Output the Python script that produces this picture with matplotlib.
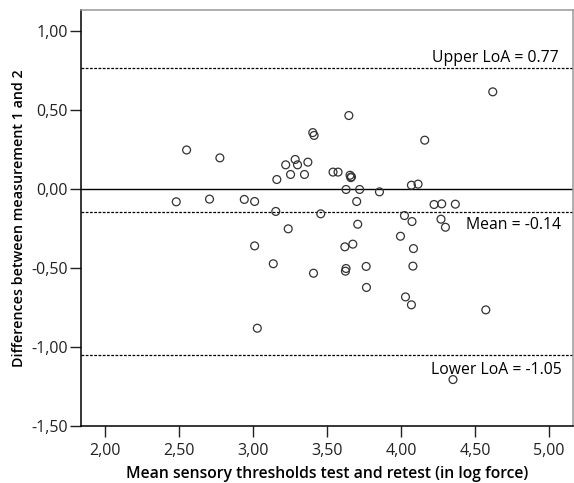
import matplotlib
matplotlib.use('Agg')
import matplotlib.pyplot as plt

# mean of test and retest (log force) vs difference between measurements
mean_vals = [2.48, 2.55, 2.705, 2.775, 2.94, 3.01, 3.01, 3.028, 3.136, 3.153,
             3.16, 3.22, 3.237, 3.253, 3.284, 3.30, 3.347, 3.37, 3.403, 3.412,
             3.408, 3.457, 3.54, 3.574, 3.628, 3.62, 3.628, 3.624, 3.647, 3.655,
             3.665, 3.66, 3.674, 3.70, 3.707, 3.72, 3.764, 3.766, 3.854, 3.996,
             4.023, 4.03, 4.07, 4.074, 4.084, 4.08, 4.07, 4.115, 4.16, 4.223,
             4.275, 4.27, 4.30, 4.351, 4.367, 4.573, 4.62]
diff_vals = [-0.078, 0.25, -0.061, 0.20, -0.063, -0.076, -0.357, -0.878, -0.47, -0.139,
             0.063, 0.156, -0.249, 0.095, 0.19, 0.156, 0.095, 0.173, 0.36, 0.342,
             -0.53, -0.154, 0.11, 0.11, 0.0, -0.363, -0.50, -0.517, 0.468, 0.09,
             0.08, 0.075, -0.346, -0.076, -0.22, 0.0, -0.487, -0.62, -0.015, -0.296,
             -0.165, -0.68, 0.027, -0.203, -0.374, -0.485, -0.73, 0.034, 0.312, -0.095,
             -0.091, -0.188, -0.239, -1.203, -0.093, -0.762, 0.618]

upper_loa = 0.77
mean_diff = -0.14
lower_loa = -1.05

xticks = [2.0, 2.5, 3.0, 3.5, 4.0, 4.5, 5.0]
yticks = [-1.5, -1.0, -0.5, 0.0, 0.5, 1.0]

plt.rcParams['font.family'] = ['Open Sans', 'DejaVu Sans']

fig = plt.figure(figsize=(5.74, 4.83), dpi=100)
ax = fig.add_axes([0.1406, 0.117, 0.857, 0.862])

ax.axhline(0, color='black', lw=1.0, zorder=1)
for v in (upper_loa, mean_diff, lower_loa):
    ax.axhline(v, color='black', lw=0.9, ls=(0, (2.2, 1.2)), zorder=1)

ax.scatter(mean_vals, diff_vals, s=32, facecolors='none', edgecolors='#333333',
           linewidths=0.9, zorder=3)

ax.text(5.066, 0.808, 'Upper LoA = 0.77', ha='right', va='baseline', fontsize=11.3)
ax.text(5.08, -0.251, 'Mean = -0.14', ha='right', va='baseline', fontsize=11.3)
ax.text(5.086, -1.169, 'Lower LoA = -1.05', ha='right', va='baseline', fontsize=11.3)

ax.set_xlim(1.834, 5.16)
ax.set_ylim(-1.5, 1.135)
ax.set_xticks(xticks)
ax.set_yticks(yticks)
ax.set_xticklabels([f'{t:.2f}'.replace('.', ',') for t in xticks])
ax.set_yticklabels([f'{t:.2f}'.replace('.', ',') for t in yticks])
ax.tick_params(axis='both', direction='out', length=8, width=1, labelsize=11.5,
               colors='#222222')
ax.tick_params(axis='y', pad=1)
ax.tick_params(axis='x', pad=4)

for side in ('left', 'bottom'):
    ax.spines[side].set_color('black')
    ax.spines[side].set_linewidth(1.1)
for side in ('top', 'right'):
    ax.spines[side].set_color('#999999')
    ax.spines[side].set_linewidth(1.1)

ax.set_xlabel('Mean sensory thresholds test and retest (in log force)',
              fontsize=11.3, fontweight='semibold', labelpad=5)
ax.set_ylabel('Differences between measurement 1 and 2',
              fontsize=10.3, fontweight='semibold', labelpad=4)

fig.savefig('out.png', dpi=100)
